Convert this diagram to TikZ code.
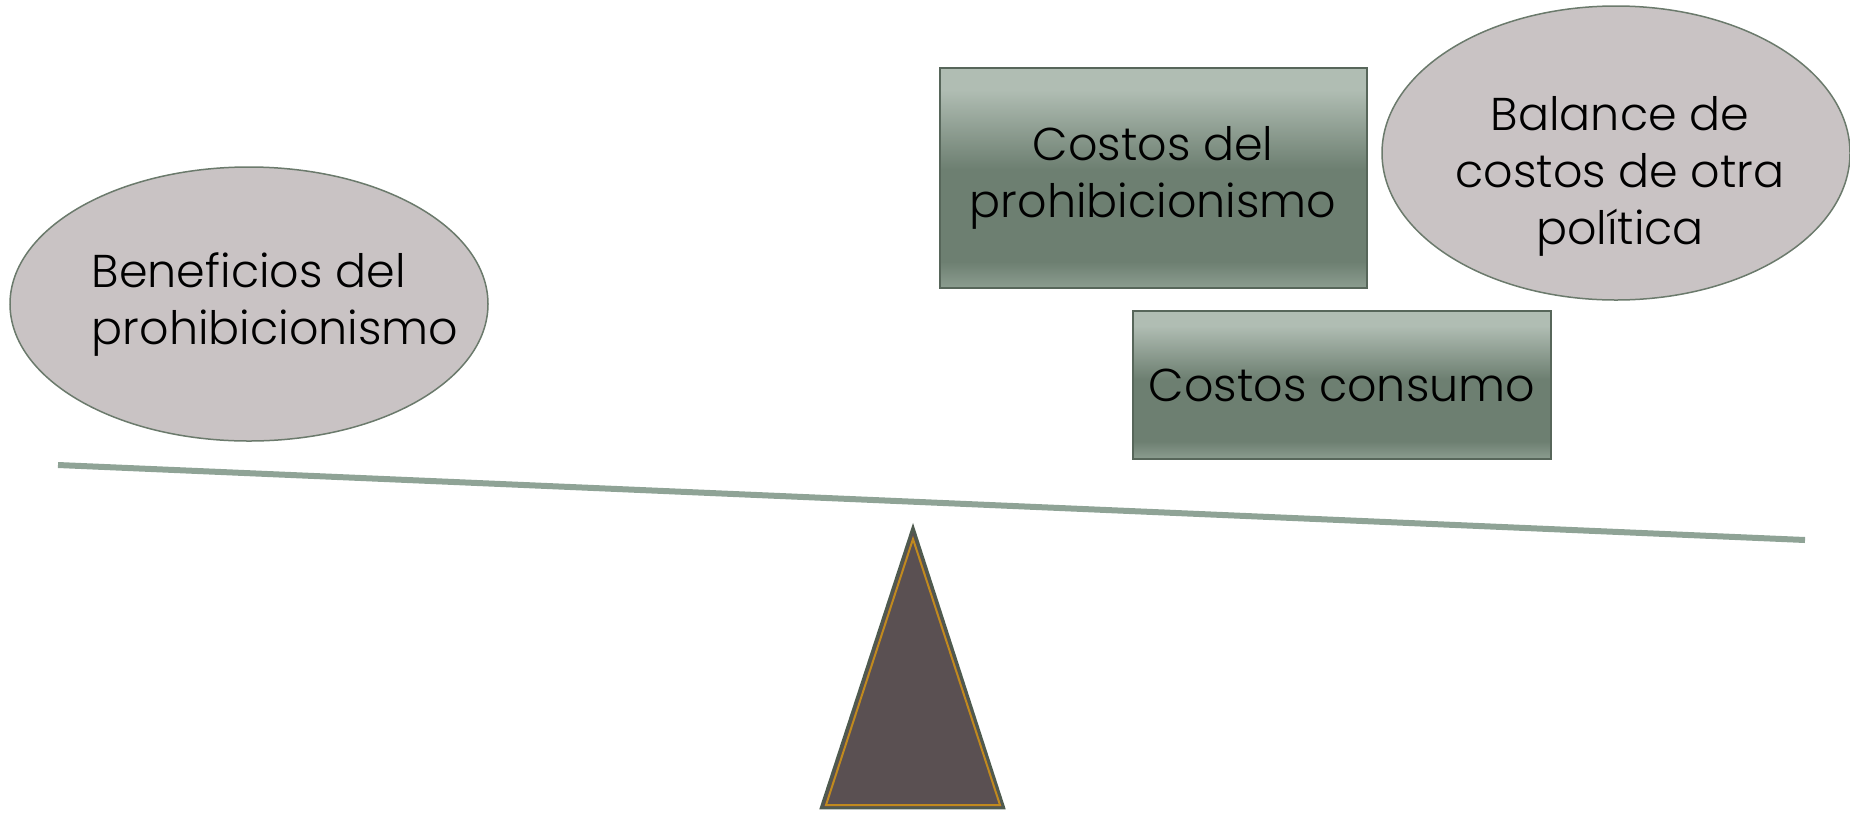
\documentclass[tikz,border=0pt]{standalone}
\usepackage{fontspec}
\setmainfont{Poppins}[UprightFont=* Light]
\usepackage{xcolor}
\usetikzlibrary{shapes.geometric,positioning}
\definecolor{platogris}{HTML}{C9C3C4}
\definecolor{platoborde}{HTML}{6B7A6C}
\definecolor{cajaclaro}{HTML}{B0BDB3}
\definecolor{cajaoscuro}{HTML}{6D7F71}
\definecolor{cajabajo}{HTML}{8C9D90}
\definecolor{cajaborde}{HTML}{57665A}
\definecolor{vigaverde}{HTML}{8FA396}
\definecolor{basegris}{HTML}{5A5052}
\definecolor{baseborde}{HTML}{4F5B4F}
\definecolor{baseoro}{HTML}{C08A1E}
% the node fills the middle 50bp of the shading
\pgfdeclareverticalshading{cajasombra}{100bp}{color(0bp)=(cajabajo); color(25bp)=(cajabajo); color(31bp)=(cajaoscuro); color(52bp)=(cajaoscuro); color(70bp)=(cajaclaro); color(75bp)=(cajaclaro); color(100bp)=(cajaclaro)}
\tikzset{%
	plato/.style   = {draw=platoborde, fill=platogris, ellipse, line width=1.5pt, inner sep=0pt},
	caja/.style    = {draw=cajaborde, rectangle, line width=2pt, shading=cajasombra, inner sep=0pt},
	texto/.style   = {font=\fontsize{46}{57}\selectfont, text=black},
	viga/.style    = {draw=vigaverde, line width=6pt},
}
\begin{document}
\begin{tikzpicture}[x=1pt,y=-1pt]
	\useasboundingbox (0,0) rectangle (1850,812);
	
	% beam and support
	\draw[viga] (58,465) -- (1805,540);
	\draw[fill=basegris, draw=baseborde, line width=2.5pt, line join=miter] (913,527) -- (821,808) -- (1004,808) -- cycle;
	\draw[baseoro, line width=2pt] (913,539) -- (826,805) -- (1000,805) -- cycle;
	
	% left side
	\node[plato, minimum width=478pt, minimum height=274pt] (benef) at (249,304) {};
	\node[texto, align=left] (benefT) at (275,305) {Beneficios del\\prohibicionismo};
	
	% right side
	\node[caja, minimum width=427pt, minimum height=220pt] (costos) at (1153,178) {};
	\node[texto, align=center] (costosT) at (costos.center) {Costos del\\prohibicionismo};
	\node[caja, minimum width=418pt, minimum height=148pt] (consumo) at (1342,385) {};
	\node[texto] (consumoT) at (consumo.center) {Costos consumo};
	\node[plato, minimum width=468pt, minimum height=294pt] (balance) at (1616,153) {};
	\node[texto, align=center] (balanceT) at (1620,176) {Balance de\\costos de otra\\política};
\end{tikzpicture}
\end{document}
